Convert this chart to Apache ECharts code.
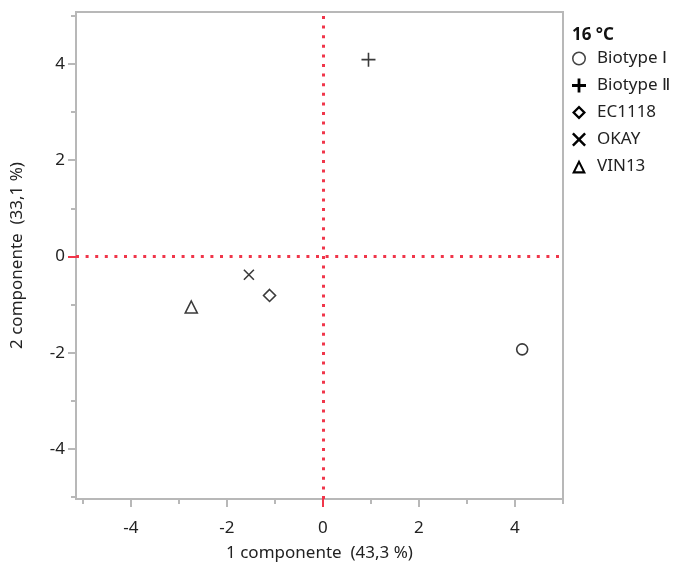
<!DOCTYPE html>
<html>
<head>
<meta charset="utf-8">
<script src="https://cdn.jsdelivr.net/npm/echarts@6/dist/echarts.min.js"></script>
<style>html,body{margin:0;padding:0;background:#fff;}#c{width:679px;height:572px;}</style>
</head>
<body>
<div id="c"></div>
<script>
var groups = ['Biotype Ⅰ', 'Biotype Ⅱ', 'EC1118', 'OKAY', 'VIN13'];
var comp1 = [4.15, 0.95, -1.11, -1.54, -2.74];
var comp2 = [-1.93, 4.09, -0.81, -0.38, -1.05];
var majorTicks = [-4, -2, 2, 4];
var labelTicks = [-4, -2, 0, 2, 4];
var minorTicks = [-5, -3, -1, 1, 3, 5];
var legendTitle = '16 °C';
var xName = '1 componente  (43,3 %)';
var yName = '2 componente  (33,1 %)';

var FONT = 'Noto Sans';
var FS = 17;
var markerPaths = [
  'circle',
  'path://M0,5 L10,5 M5,0 L5,10',
  'path://M5,0 L10,5 L5,10 L0,5 Z',
  'path://M0,0 L10,10 M10,0 L0,10',
  'path://M5,0 L10,10 L0,10 Z'
];
var markerSizes = [11, 14, 12, 10, 12];
var legendIcons = [
  'path://M7,1.5 A5.5,5.5 0 1 1 6.99,1.5 Z M7,2.7 A4.3,4.3 0 1 0 7.01,2.7 Z',
  'path://M5.6,0 H8.4 V5.6 H14 V8.4 H8.4 V14 H5.6 V8.4 H0 V5.6 H5.6 Z',
  'path://M7,0 L14,7 L7,14 L0,7 Z M7,3.2 L3.2,7 L7,10.8 L10.8,7 Z',
  'path://M1.5,0 L6,4.5 L10.5,0 L12,1.5 L7.5,6 L12,10.5 L10.5,12 L6,7.5 L1.5,12 L0,10.5 L4.5,6 L0,1.5 Z',
  'path://M7,0 L14,14 L0,14 Z M7,4.6 L3.4,11.8 L10.6,11.8 Z'
];

var series = groups.map(function (g, i) {
  return {
    name: g,
    type: 'scatter',
    xAxisIndex: 0, yAxisIndex: 0,
    symbol: markerPaths[i],
    symbolSize: markerSizes[i],
    data: [[comp1[i], comp2[i]]],
    itemStyle: { color: 'rgba(0,0,0,0)', borderColor: '#3a3a3a', borderWidth: 1.6, opacity: 1 },
    emphasis: { disabled: true },
    z: 5
  };
});
series.push({
  type: 'scatter', data: [], xAxisIndex: 0, yAxisIndex: 0,
  markLine: {
    silent: true, symbol: 'none', label: { show: false },
    lineStyle: { color: '#f0364a', width: 3, type: [3, 6.6], cap: 'butt' },
    data: [{ xAxis: 0 }, { yAxis: 0 }]
  },
  z: 3
});

function mkX(extra) {
  return Object.assign({ type: 'value', min: -5.14, max: 5, position: 'bottom', splitLine: { show: false } }, extra);
}
function mkY(extra) {
  return Object.assign({ type: 'value', min: -5.04, max: 5.08, position: 'left', splitLine: { show: false } }, extra);
}

var option = {
  animation: false,
  backgroundColor: '#fff',
  grid: { left: 76, right: 116, top: 12, bottom: 73, show: true, borderColor: '#b8b8b8', borderWidth: 2, backgroundColor: 'rgba(0,0,0,0)' },
  title: {
    text: legendTitle, left: 572, top: 27, padding: 0,
    textStyle: { fontFamily: FONT, fontSize: FS, fontWeight: 'bold', color: '#111' }
  },
  legend: {
    orient: 'vertical', left: 572, top: 50, itemWidth: 14, itemHeight: 14, itemGap: 10,
    padding: 0,
    selectedMode: false,
    textStyle: { fontFamily: FONT, fontSize: FS, color: '#222', padding: [0, 0, 0, 6] },
    data: groups.map(function (g, i) {
      return { name: g, icon: legendIcons[i], itemStyle: { color: i === 0 ? '#444' : '#000', borderWidth: 0, opacity: 1 } };
    })
  },
  xAxis: [
    mkX({
      name: xName, nameLocation: 'middle', nameGap: 46,
      nameTextStyle: { fontFamily: FONT, fontSize: FS, color: '#222' },
      axisLine: { show: true, onZero: false, lineStyle: { color: '#b8b8b8', width: 2 } },
      axisTick: { show: true, length: 8, customValues: majorTicks, lineStyle: { color: '#b8b8b8', width: 2 } },
      axisLabel: { customValues: labelTicks, margin: 21, fontFamily: FONT, fontSize: FS, color: '#222' }
    }),
    mkX({
      axisLine: { show: false, onZero: false },
      axisTick: { show: true, length: 5, customValues: minorTicks, lineStyle: { color: '#b8b8b8', width: 2 } },
      axisLabel: { show: false }
    }),
    mkX({
      axisLine: { show: false, onZero: false },
      axisTick: { show: true, length: 8, customValues: [0], lineStyle: { color: '#f0364a', width: 2 } },
      axisLabel: { show: false }
    })
  ],
  yAxis: [
    mkY({
      name: yName, nameLocation: 'middle', nameGap: 50, nameRotate: 90,
      nameTextStyle: { fontFamily: FONT, fontSize: FS, color: '#222' },
      axisLine: { show: true, onZero: false, lineStyle: { color: '#b8b8b8', width: 2 } },
      axisTick: { show: true, length: 8, customValues: majorTicks, lineStyle: { color: '#b8b8b8', width: 2 } },
      axisLabel: { customValues: labelTicks, margin: 11, fontFamily: FONT, fontSize: FS, color: '#222' }
    }),
    mkY({
      axisLine: { show: false, onZero: false },
      axisTick: { show: true, length: 5, customValues: minorTicks, lineStyle: { color: '#b8b8b8', width: 2 } },
      axisLabel: { show: false }
    }),
    mkY({
      axisLine: { show: false, onZero: false },
      axisTick: { show: true, length: 8, customValues: [0], lineStyle: { color: '#f0364a', width: 2 } },
      axisLabel: { show: false }
    })
  ],
  series: series
};
var chart = echarts.init(document.getElementById('c'), null, { renderer: 'canvas' });
chart.setOption(option);
</script>
</body>
</html>
